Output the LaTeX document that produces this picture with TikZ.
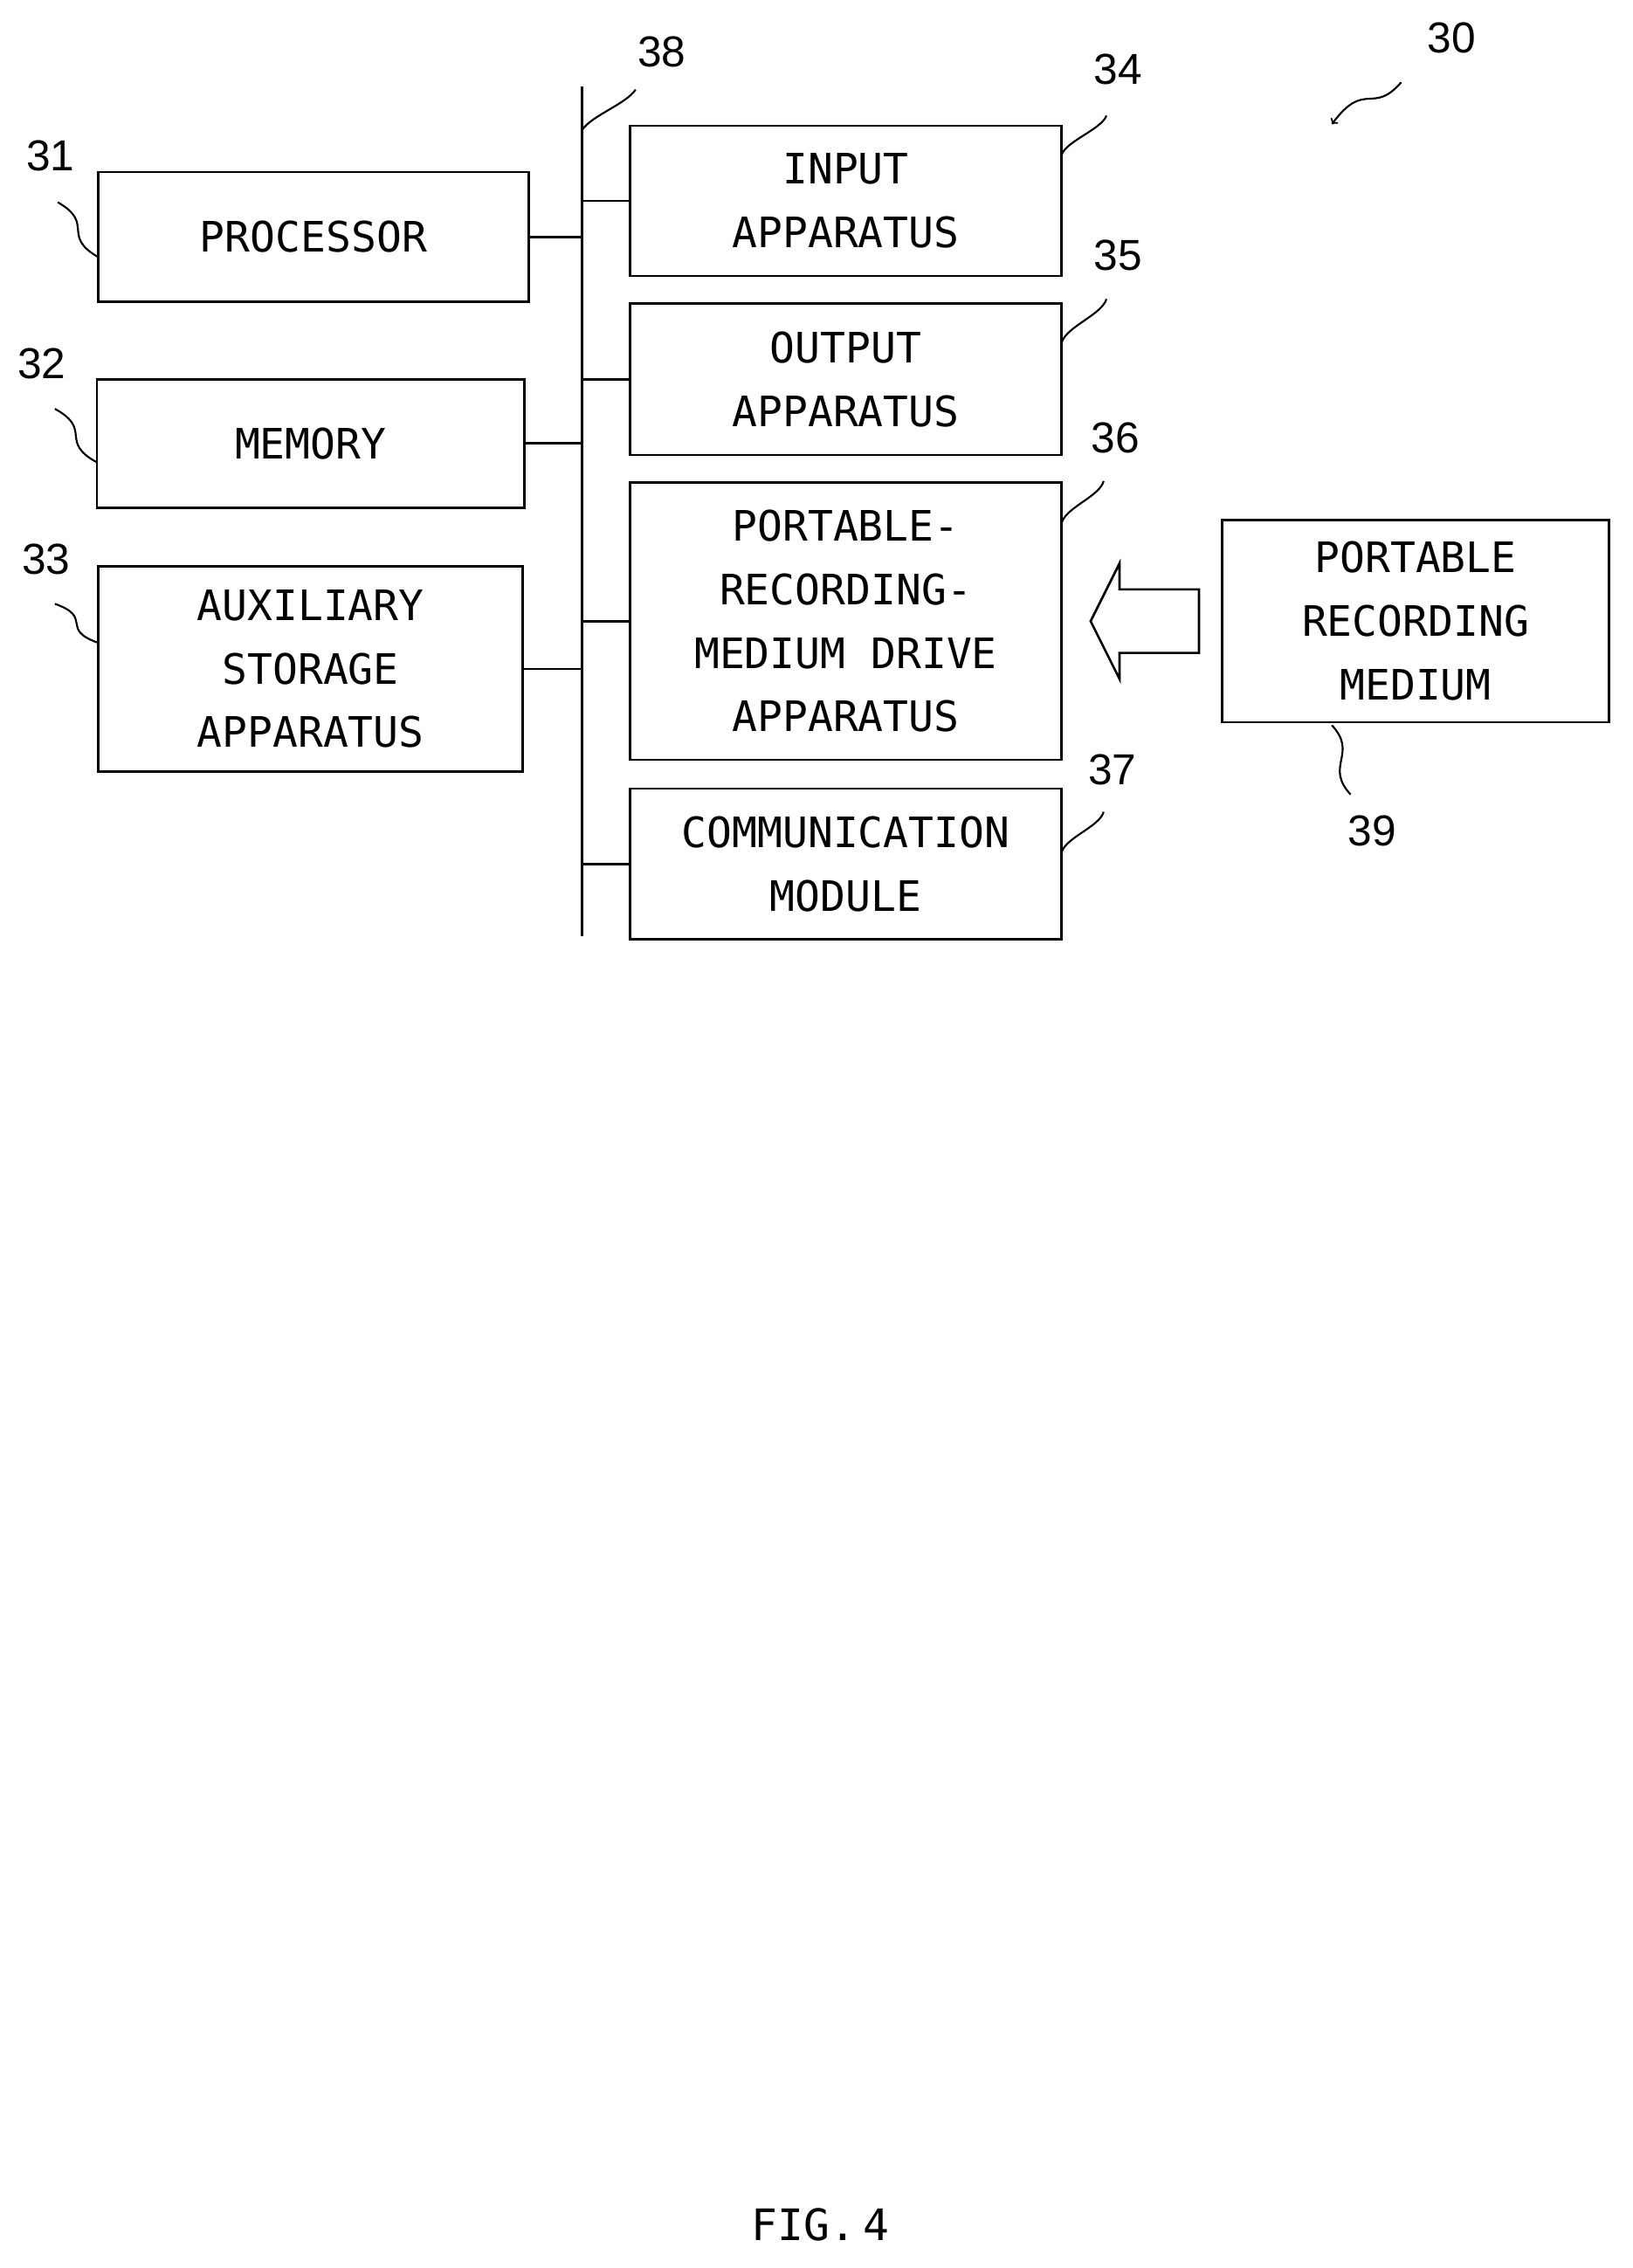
\documentclass[tikz,border=0pt]{standalone}
\usepackage{fontspec}
\setmainfont{Liberation Sans}
\newfontfamily\boxfont{DejaVu Sans Mono}
\usetikzlibrary{calc}
\begin{document}
\begin{tikzpicture}[x=1pt,y=-1pt,
 box/.style={draw,line width=1.6pt,inner sep=0pt,font=\boxfont\fontsize{29}{44}\selectfont,align=center},
 lbl/.style={font=\fontsize{30}{30}\selectfont},
 wire/.style={line width=1.6pt},
 sq/.style={line width=1.3pt}]
\useasboundingbox (0,0) rectangle (1130,1570);
\node[box,minimum width=298pt,minimum height=90pt] (p) at (217,164) {PROCESSOR};
\node[box,minimum width=296pt,minimum height=89pt] (m) at (215,307) {MEMORY};
\node[box,minimum width=294pt,minimum height=142pt] (a) at (215,463) {AUXILIARY\\STORAGE\\APPARATUS};
\node[box,minimum width=299pt,minimum height=104pt] (i) at (585.5,139) {INPUT\\APPARATUS};
\node[box,minimum width=299pt,minimum height=105pt] (o) at (585.5,262.5) {OUTPUT\\APPARATUS};
\node[box,minimum width=299pt,minimum height=192pt] (d) at (585.5,430) {PORTABLE-\\RECORDING-\\MEDIUM DRIVE\\APPARATUS};
\node[box,minimum width=299pt,minimum height=104pt] (c) at (585.5,598) {COMMUNICATION\\MODULE};
\node[box,minimum width=268pt,minimum height=140pt] (r) at (980,430) {PORTABLE\\RECORDING\\MEDIUM};
\coordinate (bt) at (403,60); \coordinate (bb) at (403,648);
\draw[wire] (bt) -- (bb);
\foreach \n in {p,m,a} \draw[wire] (\n.east) -- (\n.east -| bt);
\foreach \n in {i,o,d,c} \draw[wire] (\n.west) -- (\n.west -| bt);
% hollow arrow
\draw[line width=1.6pt] (830,408) -- (775,408) -- (775,390) -- (755,430) -- (775,470) -- (775,452) -- (830,452) -- cycle;
% labels
\node[lbl] (l31) at (35,108) {31};
\node[lbl] (l32) at (29,252) {32};
\node[lbl] (l33) at (32,387) {33};
\node[lbl] (l38) at (458,36) {38};
\node[lbl] (l34) at (774,48) {34};
\node[lbl] (l35) at (774,177) {35};
\node[lbl] (l36) at (772,303) {36};
\node[lbl] (l37) at (770,533) {37};
\node[lbl] (l39) at (950,575) {39};
\node[lbl] (l30) at (1005,26) {30};
\newcommand\sqg[2]{\draw[sq] (#1) .. controls ($(#1)!0.5!(#2)+(12,-4)$) and ($(#1)!0.5!(#2)+(-12,4)$) .. (#2);}
\coordinate (s31) at (40,140); \coordinate (e31) at (68,178); \sqg{s31}{e31}
\coordinate (s32) at (38,283); \coordinate (e32) at (67,320); \sqg{s32}{e32}
\coordinate (s33) at (38,418); \coordinate (e33) at (68,445); \sqg{s33}{e33}
\coordinate (s38) at (440,62); \coordinate (e38) at (403,90); \sqg{s38}{e38}
\coordinate (s34) at (766,80); \coordinate (e34) at (735,107); \sqg{s34}{e34}
\coordinate (s35) at (766,207); \coordinate (e35) at (735,237); \sqg{s35}{e35}
\coordinate (s36) at (764,333); \coordinate (e36) at (735,362); \sqg{s36}{e36}
\coordinate (s37) at (764,562); \coordinate (e37) at (735,590); \sqg{s37}{e37}
\coordinate (s39) at (922,502); \coordinate (e39) at (935,550); \sqg{s39}{e39}
\coordinate (s30) at (970,57); \coordinate (e30) at (922,86);
\draw[sq,->] (s30) .. controls (950,80) and (945,55) .. (e30);
\node[font=\boxfont\fontsize{30}{30}\selectfont] (fig) at (568,1540) {FIG.\,4};
\end{tikzpicture}
\end{document}
